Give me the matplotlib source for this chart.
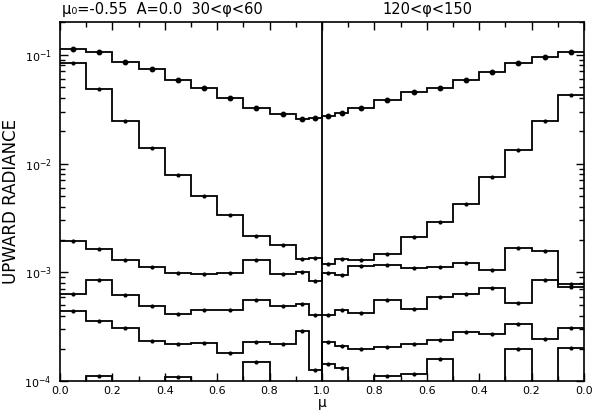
import numpy as np
import matplotlib
matplotlib.use("Agg")
import matplotlib.pyplot as plt
from matplotlib.ticker import FixedLocator, FixedFormatter, LogLocator, NullFormatter

# mu bin edges: left half runs mu 0 -> 1, right half runs mu 1 -> 0
mu_edges_left = [0.0, 0.1, 0.2, 0.3, 0.4, 0.5, 0.6, 0.7, 0.8, 0.9, 0.95, 1.0]
mu_edges_right = [1.0, 0.95, 0.9, 0.8, 0.7, 0.6, 0.5, 0.4, 0.3, 0.2, 0.1, 0.0]

# radiance per bin (left 11 bins, then right 11 bins); 0 = off scale
curve1 = [0.113, 0.105, 0.086, 0.073, 0.058, 0.0489, 0.0399, 0.0326, 0.0284, 0.0258, 0.0263,
          0.0274, 0.0292, 0.0323, 0.038, 0.0455, 0.0489, 0.0585, 0.0697, 0.0841, 0.096, 0.105]
curve2 = [0.084, 0.0482, 0.0245, 0.0140, 0.00778, 0.00502, 0.00338, 0.00218, 0.00179, 0.00132, 0.00137,
          0.00120, 0.00134, 0.00131, 0.00147, 0.00213, 0.00288, 0.00428, 0.00746, 0.01327, 0.0248, 0.0428]
curve3 = [0.00196, 0.00164, 0.00131, 0.00112, 0.000998, 0.000966, 0.000998, 0.00129, 0.00097, 0.00101, 0.00084,
          0.00099, 0.00094, 0.00115, 0.00116, 0.00109, 0.00112, 0.00123, 0.00106, 0.00168, 0.00157, 0.00078]
curve4 = [0.000635, 0.000851, 0.000622, 0.000488, 0.000418, 0.000449, 0.000449, 0.000553, 0.000488, 0.000515, 0.000404,
          0.00041, 0.000455, 0.000424, 0.000561, 0.000462, 0.000601, 0.000631, 0.000715, 0.000523, 0.000851, 0.000731]
curve5 = [0.00044, 0.000357, 0.000308, 0.000235, 0.000219, 0.000227, 0.000184, 0.000231, 0.000222, 0.00029, 0.000128,
          0.000231, 0.000211, 0.000197, 0.000207, 0.000219, 0.00024, 0.000283, 0.000275, 0.000333, 0.000247, 0.00031]
curve6 = [0, 0.000111, 0, 0, 0.00011, 0, 0, 0.000151, 0, 0, 0,
          0.000145, 0.000132, 0, 0.000113, 0.000117, 0.00016, 0, 0, 0.0002, 0, 0.000204]

tick_labels = ["0.0", "0.2", "0.4", "0.6", "0.8", "1.0", "0.8", "0.6", "0.4", "0.2", "0.0"]
title_left = "μ₀=-0.55  A=0.0  30<φ<60"
title_right = "120<φ<150"

# plotting coordinate: left half p = mu, right half p = 2 - mu
edges = np.array(mu_edges_left + [2.0 - m for m in mu_edges_right[1:]])
centers = 0.5 * (edges[:-1] + edges[1:])

fig = plt.figure(figsize=(5.94, 4.11), dpi=100)
ax = fig.add_axes([0.101, 0.072, 0.882, 0.875])
ax.set_yscale("log")
ax.set_xlim(0, 2)
ax.set_ylim(1e-4, 2e-1)

for i, c in enumerate([curve1, curve2, curve3, curve4, curve5, curve6]):
    v = np.array(c, dtype=float)
    vd = np.where(v > 0, v, 1e-6)
    ax.stairs(vd, edges, color="black", lw=1.3, baseline=None)
    m = v > 0
    if i == 0:
        ax.plot(centers[m], v[m], "o", color="black", ms=3.2)
    else:
        ax.plot(centers[m], v[m], "o", color="black", ms=2)

ax.axvline(1.0, color="black", lw=1.3)

major = np.arange(0, 2.01, 0.2)
minor = np.arange(0, 2.01, 0.1)
ax.xaxis.set_major_locator(FixedLocator(major))
ax.xaxis.set_major_formatter(FixedFormatter(tick_labels))
ax.xaxis.set_minor_locator(FixedLocator(minor))
ax.yaxis.set_major_locator(LogLocator(base=10))
ax.yaxis.set_minor_locator(LogLocator(base=10, subs=np.arange(2, 10)))
ax.yaxis.set_minor_formatter(NullFormatter())
ax.tick_params(which="both", direction="in", top=True, right=True, labelsize=8)
ax.tick_params(axis="x", which="both", pad=3)
ax.tick_params(axis="y", which="both", pad=6)
ax.tick_params(which="major", length=6, width=1)
ax.tick_params(which="minor", length=3.5, width=1)
for s in ax.spines.values():
    s.set_linewidth(1.2)

fig.text(0.542, 0.002, "μ", fontsize=10, ha="center", va="bottom")
ax.set_ylabel("UPWARD RADIANCE", fontsize=12, labelpad=3)
fig.text(0.104, 0.958, title_left, fontsize=10.5, ha="left", va="bottom")
fig.text(0.72, 0.958, title_right, fontsize=10.5, ha="center", va="bottom")

fig.savefig("out.png", dpi=100)
